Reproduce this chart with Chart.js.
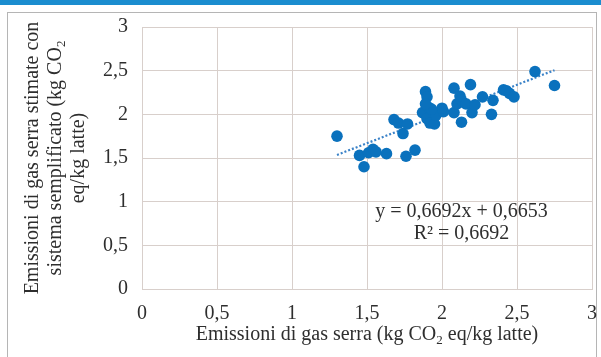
<!DOCTYPE html>
<html>
<head>
<meta charset="utf-8">
<script src="https://cdn.jsdelivr.net/npm/chart.js@4"></script>
<style>
    html, body { margin: 0; padding: 0; background: #fff; }
    canvas { display: block; }
</style>
</head>
<body>
<canvas id="chart" width="601" height="357"></canvas>
<script>
// Emissioni di gas serra: valori reali (x) e stimati con sistema semplificato (y)
const emissioniReali = [
    1.30, 1.45, 1.48, 1.51, 1.54, 1.56, 1.63, 1.68, 1.71, 1.74,
    1.77, 1.76, 1.82, 1.89, 1.90, 1.87, 1.91, 1.94, 1.90, 1.92,
    1.95, 1.96, 2.01, 2.00, 2.08, 2.08, 2.19, 2.13, 2.10, 2.12,
    2.13, 2.16, 2.20, 2.22, 2.27, 2.34, 2.33, 2.41, 2.43, 2.45,
    2.48, 2.62, 2.75, 1.93, 1.89
];
const emissioniStimate = [
    1.75, 1.53, 1.40, 1.56, 1.60, 1.57, 1.55, 1.94, 1.90, 1.78,
    1.89, 1.52, 1.59, 2.26, 2.20, 2.02, 2.08, 2.02, 1.95, 1.90,
    1.89, 1.99, 2.03, 2.07, 2.02, 2.30, 2.34, 1.91, 2.12, 2.21,
    2.16, 2.12, 2.02, 2.11, 2.20, 2.16, 2.00, 2.28, 2.27, 2.24,
    2.20, 2.49, 2.33, 2.06, 2.12
];

// Retta di regressione lineare (da etichetta)
const slope = 0.6692;
const intercept = 0.6653;
const rSquared = 0.6692;

// Tick degli assi
const tickValues = [0, 0.5, 1, 1.5, 2, 2.5, 3];

const FONT = 'Liberation Serif';
const TEXT_SIZE = 20;
const BLUE = '#0a71bd';
const GRID = '#d8cfcb';
const INK = '#2e2e2e';

const fmt = v => String(v).replace('.', ',');

const points = emissioniReali.map((x, i) => ({ x: x, y: emissioniStimate[i] }));
const xMin = Math.min(...emissioniReali);
const xMax = Math.max(...emissioniReali);
const trend = [xMin, xMax].map(x => ({ x: x, y: slope * x + intercept }));

/**
 * Draw a centred text made of parts, some of them subscript
 */
function drawRich(ctx, parts, cx, cy, size) {
    const subSize = Math.round(size * 0.65);
    let total = 0;
    parts.forEach(p => {
        ctx.font = (p.sub ? subSize : size) + 'px "' + FONT + '"';
        p.w = ctx.measureText(p.text).width;
        total += p.w;
    });
    let x = cx - total / 2;
    ctx.textAlign = 'left';
    ctx.textBaseline = 'middle';
    parts.forEach(p => {
        ctx.font = (p.sub ? subSize : size) + 'px "' + FONT + '"';
        ctx.fillText(p.text, x, p.sub ? cy + size * 0.3 : cy);
        x += p.w;
    });
}

const decorPlugin = {
    id: 'decor',
    beforeDraw(chart) {
        const ctx = chart.ctx;
        ctx.save();
        ctx.fillStyle = '#ffffff';
        ctx.fillRect(0, 0, chart.width, chart.height);
        // top blue band
        ctx.fillStyle = '#1b8dcf';
        ctx.fillRect(0, 0, chart.width, 5);
        // outer frame
        ctx.strokeStyle = '#b5b5b5';
        ctx.lineWidth = 1;
        ctx.strokeRect(7.5, 12.5, 589, 360);
        ctx.restore();
    },
    afterDraw(chart) {
        const ctx = chart.ctx;
        const xs = chart.scales.x;
        const ys = chart.scales.y;
        ctx.save();
        ctx.fillStyle = INK;

        // x axis title
        drawRich(ctx, [
            { text: 'Emissioni di gas serra (kg CO' },
            { text: '2', sub: true },
            { text: ' eq/kg latte)' }
        ], (xs.left + xs.right) / 2, 335, TEXT_SIZE);

        // y axis title, rotated
        ctx.translate(0, (ys.top + ys.bottom) / 2);
        ctx.rotate(-Math.PI / 2);
        drawRich(ctx, [{ text: 'Emissioni di gas serra stimate con' }], 0, 33, TEXT_SIZE);
        drawRich(ctx, [
            { text: 'sistema semplificato (kg CO' },
            { text: '2', sub: true }
        ], 0, 56, TEXT_SIZE);
        drawRich(ctx, [{ text: 'eq/kg latte)' }], 0, 79, TEXT_SIZE);
        ctx.setTransform(1, 0, 0, 1, 0, 0);

        // regression label
        const lx = xs.getPixelForValue(2.13);
        drawRich(ctx, [{ text: 'y = ' + fmt(slope) + 'x + ' + fmt(intercept) }], lx, ys.getPixelForValue(0.89), TEXT_SIZE);
        drawRich(ctx, [{ text: 'R² = ' + fmt(rSquared) }], lx, ys.getPixelForValue(0.63), TEXT_SIZE);
        ctx.restore();
    }
};

const axisOptions = () => ({
    type: 'linear',
    min: 0,
    max: 3,
    afterBuildTicks: scale => { scale.ticks = tickValues.map(v => ({ value: v })); },
    grid: { color: GRID, lineWidth: 1, drawTicks: false },
    border: { display: true, color: GRID },
    ticks: {
        font: { family: FONT, size: TEXT_SIZE },
        color: INK,
        padding: 14,
        callback: v => fmt(v)
    }
});

const xAxis = axisOptions();
xAxis.afterFit = scale => {
    scale.height = 68;
    // keep the plot wide, as in the original
    scale.paddingLeft = 0;
    scale.paddingRight = 0;
};
xAxis.ticks.padding = 13;
const yAxis = axisOptions();
yAxis.afterFit = scale => {
    scale.width = 142;
    scale.paddingTop = 0;
    scale.paddingBottom = 0;
};

new Chart(document.getElementById('chart'), {
    type: 'scatter',
    data: {
        datasets: [
            {
                label: 'Emissioni',
                data: points,
                backgroundColor: BLUE,
                borderWidth: 0,
                pointRadius: 5.8
            },
            {
                type: 'line',
                label: 'Lineare',
                data: trend,
                borderColor: '#3a82c8',
                borderWidth: 2.2,
                borderDash: [2, 2],
                pointRadius: 0,
                fill: false
            }
        ]
    },
    options: {
        responsive: false,
        animation: false,
        layout: { padding: { left: 0, right: 9, top: 27, bottom: 0 } },
        plugins: {
            legend: { display: false },
            tooltip: { enabled: false }
        },
        scales: { x: xAxis, y: yAxis }
    },
    plugins: [decorPlugin]
});
</script>
</body>
</html>
